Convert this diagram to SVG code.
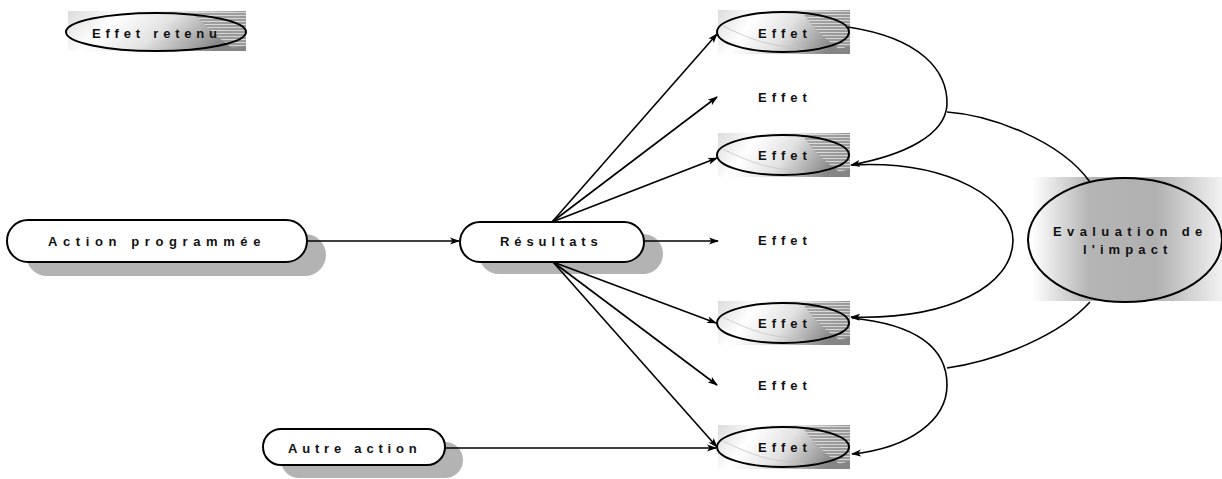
<svg xmlns="http://www.w3.org/2000/svg" xmlns:xlink="http://www.w3.org/1999/xlink" width="1222" height="479" viewBox="0 0 1222 479">
<style>
.t{font-family:"Liberation Sans",Arial,sans-serif;font-weight:bold;font-size:13px;fill:#111;letter-spacing:5px}
.box{fill:#fff;stroke:#000;stroke-width:2}
.shadow{fill:#b3b3b3;stroke:none}
.ol{fill:none;stroke:#000;stroke-width:2}
.faint{fill:none;stroke:#c4c4c4;stroke-width:0.8}
.c{fill:none;stroke:#000;stroke-width:1.6}
.ca{fill:none;stroke:#000;stroke-width:1.6;marker-end:url(#ah)}
</style>
<defs>
<marker id="ah" markerWidth="10" markerHeight="8" refX="9" refY="4" orient="auto" markerUnits="userSpaceOnUse">
<path d="M0,0.5 L10,4 L0,7.5 L2.5,4 z" fill="#000"/>
</marker>
<linearGradient id="gEff" x1="0" y1="0" x2="1" y2="0.25">
<stop offset="0" stop-color="#dcdcdc"/>
<stop offset="0.3" stop-color="#ffffff"/>
<stop offset="0.6" stop-color="#e2e2e2"/>
<stop offset="1" stop-color="#858585"/>
</linearGradient>
<linearGradient id="gEval" x1="0" y1="0" x2="1" y2="0">
<stop offset="0" stop-color="#ffffff"/>
<stop offset="0.3" stop-color="#b5b5b5"/>
<stop offset="0.65" stop-color="#b0b0b0"/>
<stop offset="1" stop-color="#f2f2f2"/>
</linearGradient>
<pattern id="hatch" width="6" height="3" patternUnits="userSpaceOnUse">
<rect width="6" height="3" fill="#9c9c9c"/>
<line x1="0" y1="0.5" x2="6" y2="0.5" stroke="#e0e0e0" stroke-width="1"/>
</pattern>
<g id="effetShape">
<rect x="-65" y="-22" width="132" height="44" fill="url(#gEff)"/>
<polygon points="18,-21 67,-21 67,14 56,17 42,6 30,-6" fill="url(#hatch)" opacity="0.85"/>
<path d="M-60,-6 C-40,4 -20,12 0,14 S18,17 22,17" class="faint"/>
<ellipse cx="0" cy="0" rx="66" ry="20" class="ol"/>
</g>
</defs>

<g id="effet-retenu">
<rect x="68" y="11" width="178" height="40" fill="url(#gEff)"/>
<polygon points="190,12 246,12 246,46 232,48 214,34 200,20" fill="url(#hatch)" opacity="0.85"/>
<ellipse cx="156" cy="32" rx="90" ry="19" class="ol"/>
<text x="92" y="38" class="t" style="letter-spacing:4.8px">Effet retenu</text>
</g>

<g id="action-programmee">
<rect x="26" y="234" width="300" height="42" rx="21" class="shadow"/>
<rect x="7" y="220" width="300" height="42" rx="21" class="box"/>
<text x="48" y="246" class="t" style="letter-spacing:5.6px">Action programmée</text>
</g>

<g id="resultats">
<rect x="479" y="234" width="184" height="40" rx="20" class="shadow"/>
<rect x="460" y="222" width="184" height="40" rx="20" class="box"/>
<text x="500" y="246" class="t" style="letter-spacing:4.9px">Résultats</text>
</g>

<g id="autre-action">
<rect x="281" y="442" width="182" height="36" rx="18" class="shadow"/>
<rect x="263" y="429" width="182" height="36" rx="18" class="box"/>
<text x="288" y="453" class="t" style="letter-spacing:4.8px">Autre action</text>
</g>

<g id="effet-1" transform="translate(783,32)">
<use xlink:href="#effetShape"/>
<text x="-25" y="6" class="t">Effet</text>
</g>
<g id="effet-2">
<text x="758" y="102" class="t">Effet</text>
</g>
<g id="effet-3" transform="translate(783,155)">
<use xlink:href="#effetShape"/>
<text x="-25" y="5" class="t">Effet</text>
</g>
<g id="effet-4">
<text x="758" y="245" class="t">Effet</text>
</g>
<g id="effet-5" transform="translate(783,323)">
<use xlink:href="#effetShape"/>
<text x="-25" y="5" class="t">Effet</text>
</g>
<g id="effet-6">
<text x="758" y="390" class="t">Effet</text>
</g>
<g id="effet-7" transform="translate(783,447)">
<use xlink:href="#effetShape"/>
<text x="-25" y="5" class="t">Effet</text>
</g>

<g id="evaluation">
<rect x="1032" y="177" width="190" height="124" fill="url(#gEval)"/>
<ellipse cx="1125" cy="240" rx="97" ry="62" class="ol"/>
<text x="1053" y="236" class="t" style="letter-spacing:5.4px">Evaluation de</text>
<text x="1083" y="254" class="t" style="letter-spacing:5.1px">l'impact</text>
</g>

<g id="connectors">
<line x1="307" y1="241" x2="459" y2="241" class="ca"/>
<line x1="644" y1="241" x2="718" y2="241" class="ca"/>
<line x1="552" y1="222" x2="717" y2="34" class="ca"/>
<line x1="552" y1="222" x2="717" y2="97" class="ca"/>
<line x1="552" y1="222" x2="717" y2="158" class="ca"/>
<line x1="553" y1="262" x2="716" y2="323" class="ca"/>
<line x1="553" y1="262" x2="717" y2="385" class="ca"/>
<line x1="553" y1="262" x2="717" y2="447" class="ca"/>
<line x1="445" y1="448" x2="716" y2="448" class="ca"/>
<path d="M848,27 C920,38 948,70 947,105 C945,135 905,155 851,165" class="ca"/>
<path d="M947,112 C990,115 1060,140 1090,182" class="c"/>
<path d="M852,165 C950,160 1013,200 1013,240 C1013,285 950,320 851,317" class="ca"/>
<path d="M852,318 C920,325 947,350 947,385 C947,420 910,448 852,454" class="ca"/>
<path d="M947,368 C1000,360 1060,335 1090,302" class="c"/>
</g>
</svg>
